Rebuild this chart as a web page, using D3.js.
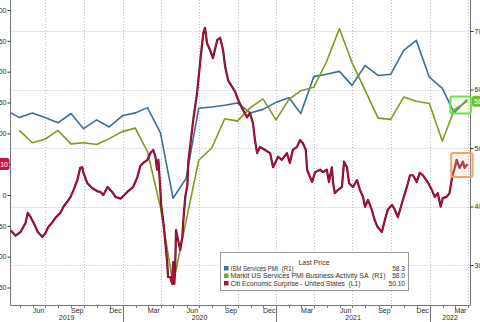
<!DOCTYPE html>
<html><head><meta charset="utf-8">
<script src="https://cdn.jsdelivr.net/npm/d3@7"></script>
<style>
html,body{margin:0;padding:0;background:#fff;}
svg{display:block;font-family:"Liberation Sans",Arial,sans-serif;}
</style></head><body>
<svg id="chart" width="480" height="322"></svg>
<script>
// ISM Services PMI, monthly (R1)
const ismMonths = ["2019-03","2019-04","2019-05","2019-06","2019-07","2019-08","2019-09","2019-10","2019-11","2019-12",
  "2020-01","2020-02","2020-03","2020-04","2020-05","2020-06","2020-07","2020-08","2020-09","2020-10","2020-11","2020-12",
  "2021-01","2021-02","2021-03","2021-04","2021-05","2021-06","2021-07","2021-08","2021-09","2021-10","2021-11","2021-12",
  "2022-01","2022-02","2022-03"];
const ismValues = [56.4,55.2,56.0,55.2,54.3,55.9,53.3,54.8,53.6,55.5,
  56.0,56.9,52.6,41.4,44.8,56.8,57.0,57.3,57.7,56.0,56.6,57.8,
  58.6,55.9,62.2,62.6,63.1,60.7,64.1,62.4,62.6,66.7,68.4,62.1,
  60.2,56.0,58.3];

// Markit US Services PMI Business Activity SA, monthly (R1)
const markitMonths = ["2019-04","2019-05","2019-06","2019-07","2019-08","2019-09","2019-10","2019-11","2019-12",
  "2020-01","2020-02","2020-03","2020-04","2020-05","2020-06","2020-07","2020-08","2020-09","2020-10","2020-11","2020-12",
  "2021-01","2021-02","2021-03","2021-04","2021-05","2021-06","2021-07","2021-08","2021-09","2021-10","2021-11","2021-12",
  "2022-01","2022-02","2022-03"];
const markitValues = [53.0,50.9,51.5,53.0,50.7,50.9,50.6,51.6,52.8,
  53.4,49.4,39.8,26.7,37.5,47.9,50.0,55.0,54.6,56.9,58.4,54.8,
  58.3,59.8,60.4,64.7,70.4,64.6,59.9,55.1,54.9,58.7,58.0,57.6,
  51.2,56.5,58.0];

// Citi Economic Surprise Index - United States (L1)
const surpriseDates = ["2019-04-09","2019-04-21","2019-05-03","2019-05-15","2019-05-20","2019-05-27","2019-06-03","2019-06-13","2019-06-24",
  "2019-07-01","2019-07-08","2019-07-18","2019-07-25","2019-08-06","2019-08-13","2019-08-22","2019-08-30","2019-09-06","2019-09-15",
  "2019-09-22","2019-09-27","2019-09-29","2019-10-09","2019-10-21","2019-11-02","2019-11-09","2019-11-16","2019-11-26","2019-12-07",
  "2019-12-15","2019-12-27","2020-01-12","2020-01-26","2020-02-05","2020-02-12","2020-02-19","2020-02-29","2020-03-07","2020-03-14",
  "2020-03-19","2020-03-23","2020-03-26","2020-03-30","2020-04-02","2020-04-07","2020-04-11","2020-04-16","2020-04-18","2020-04-23",
  "2020-04-28","2020-04-30","2020-05-03","2020-05-05","2020-05-07","2020-05-12","2020-05-17","2020-05-22","2020-05-24","2020-05-29",
  "2020-06-03","2020-06-05","2020-06-10","2020-06-17","2020-06-26","2020-07-04","2020-07-11","2020-07-15","2020-07-20","2020-07-27",
  "2020-08-03","2020-08-13","2020-08-20","2020-08-27","2020-09-01","2020-09-08","2020-09-18","2020-09-25","2020-10-02","2020-10-11",
  "2020-10-23","2020-10-30","2020-11-06","2020-11-11","2020-11-16","2020-11-23","2020-12-05","2020-12-17","2020-12-24","2021-01-05",
  "2021-01-14","2021-01-26","2021-02-02","2021-02-09","2021-02-19","2021-02-26","2021-03-05","2021-03-12","2021-03-15","2021-03-27",
  "2021-04-03","2021-04-15","2021-04-22","2021-05-01","2021-05-06","2021-05-13","2021-05-16","2021-05-20","2021-05-27","2021-06-06",
  "2021-06-11","2021-06-18","2021-06-23","2021-07-02","2021-07-12","2021-07-19","2021-07-26","2021-07-31","2021-08-07","2021-08-16",
  "2021-08-23","2021-08-30","2021-09-09","2021-09-16","2021-09-23","2021-10-03","2021-10-10","2021-10-17","2021-10-27","2021-11-03",
  "2021-11-10","2021-11-15","2021-11-22","2021-12-01","2021-12-08","2021-12-16","2021-12-27","2022-01-06","2022-01-13","2022-01-20",
  "2022-01-27","2022-02-01","2022-02-10","2022-02-17","2022-02-24","2022-03-02","2022-03-06","2022-03-13","2022-03-21","2022-03-25",
  "2022-04-01"];
const surpriseValues = [-57,-66,-60,-45,-29,-36,-45,-60,-68,
  -62,-52,-44,-37,-29,-19,-11,-3,8,24,
  44,45,37,19,11,6,5,0,13,5,
  -3,-6,5,13,29,47,52,57,68,73,
  62,41,57,16,-19,-45,-73,-110,-133,-133,
  -144,-109,-144,-117,-57,-73,-89,-68,-45,-3,
  16,52,81,122,165,219,263,271,246,235,
  222,251,255,235,208,186,175,167,154,141,
  126,133,117,89,68,78,73,68,45,62,
  57,68,52,73,78,89,84,73,41,21,
  37,41,37,41,21,45,19,3,8,13,
  54,45,19,13,24,8,-3,-19,-8,-24,
  -41,-52,-60,-41,-24,-16,-24,-36,-13,3,
  19,32,32,21,36,32,21,8,-3,3,
  -19,-5,-3,3,32,45,57,44,54,44,
  50.10];

// Axis ticks and legend content
const leftTicks = [-150,-100,-50,0,50,100,150,200,250,300];
const rightTicks = [30,40,50,60,70];
const legendTitle = "Last Price";
const legendNames = ["ISM Services PMI  (R1)","Markit US Services PMI Business Activity SA  (R1)","Citi Economic Surprise - United States  (L1)"];
const legendValues = ["58.3","58.0","50.10"];

const colors = {ism:"#3d6e98", markit:"#7f9b1f", citi:"#ad133c"};

const svg = d3.select("#chart");
const plot = {left:10.5, right:470.5, top:0, bottom:305};

const parseMonth = d3.timeParse("%Y-%m");
const parseDay = d3.timeParse("%Y-%m-%d");
const monthEnd = m => d3.timeDay.offset(d3.timeMonth.offset(parseMonth(m),1),-1);

const x = d3.scaleTime().domain([parseDay("2019-04-09"), parseDay("2022-04-08")]).range([plot.left, plot.right]);
const yL = d3.scaleLinear().domain([-150,300]).range([287.5,10]);
const yR = d3.scaleLinear().domain([30,70]).range([265,31]);

// clip region for the series
svg.append("defs").append("clipPath").attr("id","plotClip")
  .append("rect").attr("x",plot.left).attr("y",plot.top)
  .attr("width",plot.right-plot.left).attr("height",plot.bottom-plot.top);

// dotted grid: horizontal at right-axis ticks, vertical at quarter starts
const grid = svg.append("g").attr("stroke","#b9b9b9").attr("stroke-width",1).attr("stroke-dasharray","1,2");
grid.selectAll("line.h").data(rightTicks).join("line")
  .attr("x1",plot.left).attr("x2",plot.right)
  .attr("y1",d=>Math.round(yR(d))+0.5).attr("y2",d=>Math.round(yR(d))+0.5);
const quarters = d3.timeMonth.every(3).range(x.domain()[0], x.domain()[1]);
grid.selectAll("line.v").data(quarters).join("line")
  .attr("x1",d=>Math.round(x(d))+0.5).attr("x2",d=>Math.round(x(d))+0.5)
  .attr("y1",plot.top).attr("y2",plot.bottom);

// axes; the left-axis label at the latest Citi reading sits under its value tag
const styleAxis = g => {
  g.select(".domain").attr("stroke","#777");
  g.selectAll(".tick line").attr("stroke","#333");
  g.selectAll(".tick text").attr("fill","#2a2a2a").style("font-size","7px");
};
svg.append("g").attr("transform",`translate(${plot.left},0)`)
  .call(d3.axisLeft(yL).tickValues(leftTicks).tickFormat(d => d === 50 ? "" : d3.format("d")(d))
    .tickSize(3).tickPadding(1).tickSizeOuter(0))
  .call(styleAxis).call(g=>g.select(".domain").attr("d",`M0,${plot.top}V${plot.bottom}`));
svg.append("g").attr("transform",`translate(${plot.right},0)`)
  .call(d3.axisRight(yR).tickValues(rightTicks).tickFormat(d3.format("d")).tickSize(3).tickPadding(1).tickSizeOuter(0))
  .call(styleAxis).call(g=>g.select(".domain").attr("d",`M0,${plot.top}V${plot.bottom}`));

// bottom axis: line, month ticks, quarter labels, year labels and separators
const bottom = svg.append("g");
bottom.append("line").attr("x1",plot.left).attr("x2",plot.right)
  .attr("y1",plot.bottom+0.5).attr("y2",plot.bottom+0.5).attr("stroke","#777");
const months = d3.timeMonth.range(x.domain()[0], x.domain()[1]);
bottom.selectAll("line.m").data(months).join("line")
  .attr("x1",d=>Math.round(x(d))+0.5).attr("x2",d=>Math.round(x(d))+0.5)
  .attr("y1",plot.bottom).attr("y2",d=>d.getMonth()===0?322:plot.bottom+3)
  .attr("stroke","#777");
const labelMonths = months.filter(d=>d.getMonth()%3===2).map(d=>d3.timeDay.offset(d,14));
bottom.selectAll("text.m").data(labelMonths).join("text")
  .attr("x",d=>x(d)).attr("y",312.5).attr("text-anchor","middle")
  .attr("fill","#2a2a2a").style("font-size","7px").text(d3.timeFormat("%b"));
const years = [2019,2020,2021,2022];
bottom.selectAll("text.y").data(years).join("text")
  .attr("x",yr=>{
    const a = Math.max(x(new Date(yr,0,1)),plot.left), b = Math.min(x(new Date(yr+1,0,1)),plot.right);
    return (a+b)/2;
  })
  .attr("y",319.5).attr("text-anchor","middle")
  .attr("fill","#2a2a2a").style("font-size","7px").text(d=>d);

// series
const series = svg.append("g").attr("clip-path","url(#plotClip)").attr("fill","none")
  .attr("stroke-linejoin","round");
const ismData = ismMonths.map((m,i)=>({date:monthEnd(m), v:ismValues[i]}));
const markitData = markitMonths.map((m,i)=>({date:monthEnd(m), v:markitValues[i]}));
const citiData = surpriseDates.map((d,i)=>({date:parseDay(d), v:surpriseValues[i]}));
const lineR = d3.line().x(d=>x(d.date)).y(d=>yR(d.v));
const lineL = d3.line().x(d=>x(d.date)).y(d=>yL(d.v));
series.append("path").datum(ismData).attr("d",lineR).attr("stroke",colors.ism).attr("stroke-width",1.6);
series.append("path").datum(markitData).attr("d",lineR).attr("stroke",colors.markit).attr("stroke-width",1.6);
series.append("path").datum(citiData).attr("d",lineL).attr("stroke","#6e0a22").attr("stroke-width",2.2);
series.append("path").datum(citiData).attr("d",lineL).attr("stroke",colors.citi).attr("stroke-width",1.2);

// highlight boxes around the latest readings
svg.append("rect")
  .attr("x",x(parseDay("2022-02-19"))).attr("y",yR(58.8))
  .attr("width",x(parseDay("2022-04-09"))-x(parseDay("2022-02-19"))).attr("height",yR(55.9)-yR(58.8))
  .attr("rx",2).attr("fill","rgba(140,240,110,0.12)").attr("stroke","#6fe04c").attr("stroke-width",2);
svg.append("rect")
  .attr("x",x(parseDay("2022-02-21"))).attr("y",yL(68))
  .attr("width",x(parseDay("2022-04-13"))-x(parseDay("2022-02-21"))).attr("height",yL(29)-yL(68))
  .attr("rx",2).attr("fill","rgba(250,200,160,0.25)").attr("stroke","#f0a468").attr("stroke-width",2);

// last-value tags on the axes
const tagL = svg.append("g");
tagL.append("rect").attr("x",-12).attr("y",yL(50.1)-6).attr("width",21.5).attr("height",12).attr("rx",2.5).attr("fill","#c8153f");
tagL.append("text").attr("x",8).attr("y",yL(50.1)+2.5).attr("text-anchor","end").attr("fill","#fff")
  .style("font-size","7px").text(legendValues[2]);
const tagR = svg.append("g");
tagR.append("rect").attr("x",472).attr("y",yR(58.0)-5.5).attr("width",20).attr("height",11).attr("rx",2.5).attr("fill","#6fbf2c");
tagR.append("text").attr("x",474).attr("y",yR(58.0)+2.5).attr("fill","#fff")
  .style("font-size","7px").text(legendValues[1]);

// legend
const lg = svg.append("g");
lg.append("rect").attr("x",220.5).attr("y",252.5).attr("width",188).attr("height",38)
  .attr("fill","#fff").attr("stroke","#9a9a9a");
lg.append("text").attr("x",314).attr("y",264.5).attr("text-anchor","middle")
  .attr("fill","#333").style("font-size","7px").text(legendTitle);
const swatch = [colors.ism, "#7aa62a", colors.citi];
const nameWidths = [63, 155, 130];
legendNames.forEach((name,i)=>{
  const cy = 268.5 + i*7.5;
  lg.append("rect").attr("x",224).attr("y",cy-2.5).attr("width",4.5).attr("height",4.5).attr("fill",swatch[i]);
  lg.append("text").attr("x",230.5).attr("y",cy+2.3).attr("fill","#333")
    .attr("textLength",nameWidths[i]).attr("lengthAdjust","spacingAndGlyphs")
    .style("font-size","6.6px").style("white-space","pre").text(name);
  lg.append("text").attr("x",405).attr("y",cy+2.3).attr("text-anchor","end").attr("fill","#333")
    .style("font-size","6.6px").text(legendValues[i]);
});
</script>
</body></html>
